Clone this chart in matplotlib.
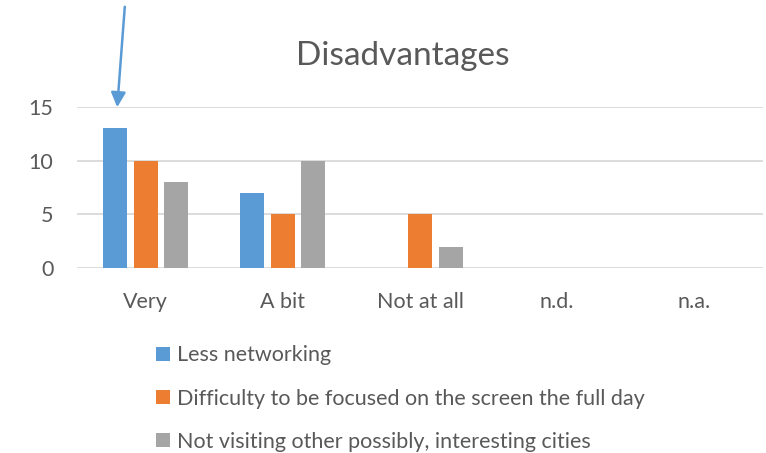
import matplotlib.pyplot as plt
import numpy as np

plt.rcParams['font.family'] = ['Lato', 'DejaVu Sans']

categories = ['Very', 'A bit', 'Not at all', 'n.d.', 'n.a.']
series_names = ['Less networking',
                'Difficulty to be focused on the screen the full day',
                'Not visiting other possibly, interesting cities']
less_networking = [13, 7, 0, 0, 0]
difficulty_focus = [10, 5, 5, 0, 0]
not_visiting = [8, 10, 2, 0, 0]
colors = ['#5b9bd5', '#ed7d31', '#a5a5a5']
text_color = '#595959'

W, H = 766, 453
fig = plt.figure(figsize=(W / 100, H / 100), dpi=100)
ax = fig.add_axes([77 / W, (H - 268) / H, (763 - 77) / W, (268 - 107) / H])

x = np.arange(len(categories))
width = 0.175
step = 0.223
for i, (vals, name) in enumerate(zip([less_networking, difficulty_focus, not_visiting], series_names)):
    ax.bar(x + (i - 1) * step, vals, width, color=colors[i], label=name, zorder=3)

ax.set_xlim(-0.5, len(categories) - 0.5)
ax.set_ylim(0, 15)
ax.set_yticks([0, 5, 10, 15])
ax.yaxis.grid(True, color='#d9d9d9', lw=1.3, zorder=0)
ax.set_xticks(x)
ax.set_xticklabels(categories)
ax.tick_params(axis='both', length=0, labelsize=15.5, labelcolor=text_color)
ax.tick_params(axis='x', pad=17)
ax.tick_params(axis='y', pad=17)
for s in ax.spines.values():
    s.set_visible(False)

fig.text(403 / W, 1 - 56 / H, 'Disadvantages', ha='center', va='center',
         fontsize=24, color=text_color)

handles, labels = ax.get_legend_handles_labels()
fig.legend(handles, labels, loc='upper left', bbox_to_anchor=(137 / W, 1 - 326 / H),
           frameon=False, fontsize=15.5, labelcolor=text_color, labelspacing=1.08,
           handlelength=0.65, handleheight=0.65, handletextpad=0.3)

ax.annotate('', xy=(117 / W, 1 - 110 / H), xycoords='figure fraction',
            xytext=(125 / W, 1 - 4 / H), textcoords='figure fraction',
            arrowprops=dict(arrowstyle='-|>', color='#5b9bd5', lw=1.8, mutation_scale=22))

fig.savefig('out.png', dpi=100)
